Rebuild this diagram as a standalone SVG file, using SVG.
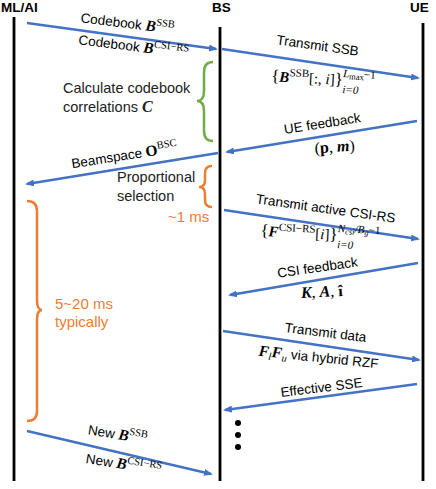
<svg xmlns="http://www.w3.org/2000/svg" width="436" height="489" viewBox="0 0 436 489">
<style>
.ll{stroke:#000;stroke-width:2.8;fill:none}
.msg{stroke:#4472C4;stroke-width:2.5;fill:none;marker-end:url(#ah)}
.hd{font-family:"Liberation Sans",Arial,sans-serif;font-weight:bold;font-size:13.5px;fill:#000}
.lbl{font-family:"Liberation Sans",Arial,sans-serif;font-size:13.5px;fill:#000}
.note{font-family:"Liberation Sans",Arial,sans-serif;font-size:14.5px;fill:#222}
.or{font-family:"Liberation Sans",Arial,sans-serif;font-size:15px;fill:#ED7D31}
.m{font-family:"Liberation Serif","Times New Roman",serif}
.bi{font-weight:bold;font-style:italic}
.b{font-weight:bold}
.it{font-style:italic}
.brG{stroke:#70AD47;stroke-width:2.5;fill:none}
.brO{stroke:#ED7D31;stroke-width:2.5;fill:none}
</style>
<defs>
<marker id="ah" markerUnits="userSpaceOnUse" markerWidth="10" markerHeight="8" refX="7" refY="3.5" orient="auto" viewBox="0 0 10 8">
<path d="M0,0 L9,3.5 L0,7 z" fill="#4472C4"/>
</marker>
</defs>

<g id="mlai">
<text class="hd" x="1" y="12" font-size="14">ML/AI</text>
<line class="ll" x1="14" y1="17" x2="14" y2="481"/>
</g>
<g id="bs">
<text class="hd" x="212" y="12">BS</text>
<line class="ll" x1="220" y1="27" x2="220" y2="481"/>
</g>
<g id="ue">
<text class="hd" x="410" y="12">UE</text>
<line class="ll" x1="423" y1="23" x2="423" y2="481"/>
</g>

<g id="connectors">
<line class="msg" x1="27" y1="23" x2="216" y2="49"/>
<line class="msg" x1="222" y1="49" x2="418" y2="78"/>
<line class="msg" x1="417" y1="121" x2="227" y2="152"/>
<line class="msg" x1="218" y1="153" x2="27" y2="184"/>
<line class="msg" x1="224" y1="210" x2="418" y2="239"/>
<line class="msg" x1="418" y1="263" x2="230" y2="295"/>
<line class="msg" x1="223" y1="331" x2="419" y2="360"/>
<line class="msg" x1="417" y1="384" x2="225" y2="410"/>
<line class="msg" x1="27" y1="431" x2="211" y2="474"/>
</g>

<g id="labels">
<g transform="translate(127,28) rotate(7)"><text class="lbl" text-anchor="middle" font-size="14">Codebook <tspan class="m bi" font-size="15.5">B</tspan><tspan class="m" font-size="10.5" dy="-6">SSB</tspan></text></g>
<g transform="translate(133,51) rotate(7)"><text class="lbl" text-anchor="middle" font-size="14">Codebook <tspan class="m bi" font-size="15.5">B</tspan><tspan class="m" font-size="10.5" dy="-6">CSI−RS</tspan></text></g>

<g transform="translate(317,50) rotate(8)"><text class="lbl" text-anchor="middle">Transmit SSB</text></g>
<g transform="translate(323,84) rotate(3)"><text class="m" font-size="15" text-anchor="middle"><tspan font-size="17">{</tspan><tspan class="bi">B</tspan><tspan font-size="11" dy="-6">SSB</tspan><tspan dy="6">[:, </tspan><tspan class="it">i</tspan>]<tspan font-size="17">}</tspan><tspan font-size="11" class="it" dy="8">i=0</tspan><tspan font-size="11" class="it" dx="-16" dy="-16">L</tspan><tspan font-size="8.5" dy="2">max</tspan><tspan font-size="11" dy="-2">−1</tspan></text></g>

<g transform="translate(323,128) rotate(-9)"><text class="lbl" text-anchor="middle">UE feedback</text></g>
<g transform="translate(335,152) rotate(-4)"><text class="m" font-size="16" text-anchor="middle">(<tspan class="b">p</tspan>, <tspan class="bi">m</tspan>)</text></g>

<g transform="translate(125,160) rotate(-9)"><text class="lbl" text-anchor="middle" font-size="14">Beamspace <tspan class="m b" font-size="15.5">O</tspan><tspan class="m" font-size="10.5" dy="-6">BSC</tspan></text></g>

<g transform="translate(325,213) rotate(8)"><text class="lbl" text-anchor="middle">Transmit active CSI-RS</text></g>
<g transform="translate(320,239) rotate(3)"><text class="m" font-size="15" text-anchor="middle"><tspan font-size="17">{</tspan><tspan class="bi">F</tspan><tspan font-size="11" dy="-6">CSI−RS</tspan><tspan dy="6">[</tspan><tspan class="it">i</tspan>]<tspan font-size="17">}</tspan><tspan font-size="11" class="it" dy="8">i=0</tspan><tspan font-size="11" class="it" dx="-16" dy="-16">N</tspan><tspan font-size="8.5" class="it" dy="2">csi</tspan><tspan font-size="11" class="it" dy="-2">/B</tspan><tspan font-size="8.5" class="it" dy="2">g</tspan><tspan font-size="11" dy="-2">−1</tspan></text></g>

<g transform="translate(318,272) rotate(-8)"><text class="lbl" text-anchor="middle">CSI feedback</text></g>
<g transform="translate(322,297) rotate(-3)"><text class="m" font-size="16" text-anchor="middle"><tspan class="bi">K</tspan>, <tspan class="bi">A</tspan>, <tspan class="b">î</tspan></text></g>

<g transform="translate(325,337) rotate(7)"><text class="lbl" text-anchor="middle">Transmit data</text></g>
<g transform="translate(318,362) rotate(6)"><text class="lbl" text-anchor="middle" font-size="14"><tspan class="m bi" font-size="15.5">F</tspan><tspan class="m it" font-size="10.5" dy="3">l</tspan><tspan class="m bi" font-size="15.5" dy="-3">F</tspan><tspan class="m it" font-size="10.5" dy="3">u</tspan><tspan dy="-3"> via hybrid RZF</tspan></text></g>

<g transform="translate(322,392) rotate(-7)"><text class="lbl" text-anchor="middle">Effective SSE</text></g>

<g transform="translate(117,439) rotate(9)"><text class="lbl" text-anchor="middle" font-size="14">New <tspan class="m bi" font-size="15.5">B</tspan><tspan class="m" font-size="10.5" dy="-6">SSB</tspan></text></g>
<g transform="translate(123,469) rotate(9)"><text class="lbl" text-anchor="middle" font-size="14">New <tspan class="m bi" font-size="15.5">B</tspan><tspan class="m" font-size="10.5" dy="-6">CSI−RS</tspan></text></g>
</g>

<g id="calc">
<text class="note" x="63" y="93" font-size="14.5">Calculate codebook</text>
<text class="note" x="63" y="112" font-size="14.5">correlations <tspan class="m bi" font-size="16">C</tspan></text>
<path class="brG" d="M213,62 Q204,62 204,72 L204,91 Q204,101 197,101 Q204,101 204,111 L204,131 Q204,141 213,141"/>
</g>

<g id="propsel">
<text class="note" x="117" y="182">Proportional</text>
<text class="note" x="117" y="201">selection</text>
<path class="brO" d="M212,166 Q205,166 205,173 L205,180 Q205,187 199,187 Q205,187 205,194 L205,200 Q205,207 212,207"/>
<text class="or" x="168" y="222">~1 ms</text>
</g>

<g id="period">
<path class="brO" d="M27,201 Q37,201 37,211 L37,300 Q37,310 42,310 Q37,310 37,320 L37,411 Q37,421 27,421"/>
<text class="or" x="55" y="309">5~20 ms</text>
<text class="or" x="55" y="327">typically</text>
</g>

<g id="dots" fill="#000">
<circle cx="238" cy="423" r="3"/>
<circle cx="238" cy="435" r="3"/>
<circle cx="238" cy="447" r="3"/>
</g>
</svg>
